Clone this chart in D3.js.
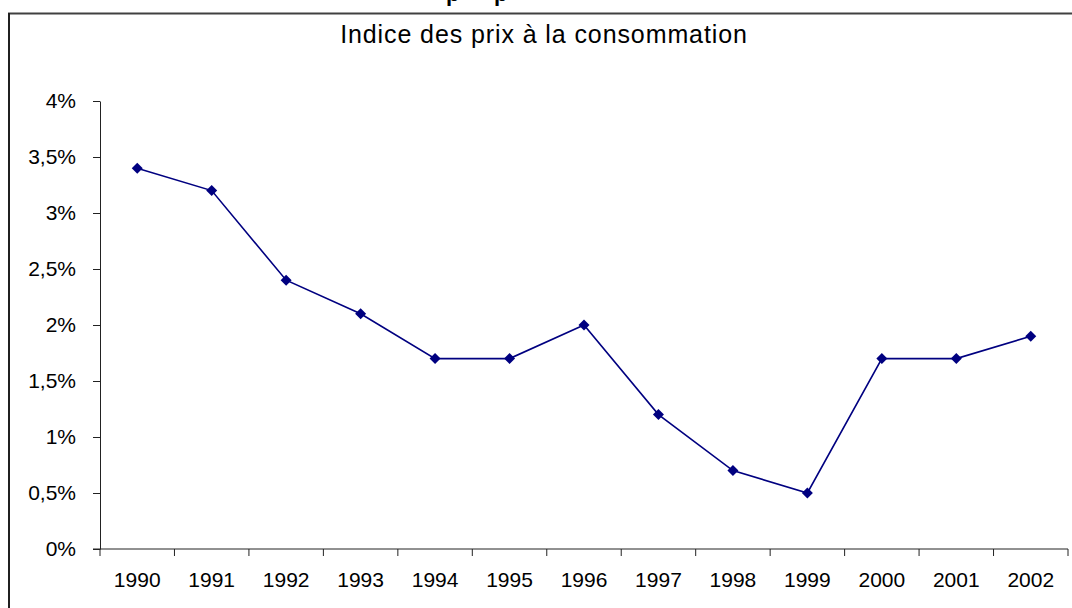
<!DOCTYPE html>
<html>
<head>
<meta charset="utf-8">
<script src="https://cdn.jsdelivr.net/npm/d3@7"></script>
<style>
  html, body { margin: 0; background: #fff; overflow: hidden; }
  svg { display: block; font-family: "Liberation Sans", Arial, sans-serif; }
</style>
</head>
<body>
<div id="chart"></div>
<script>
// data
var years = ["1990", "1991", "1992", "1993", "1994", "1995", "1996", "1997", "1998", "1999", "2000", "2001", "2002"];
var ipc = [3.4, 3.2, 2.4, 2.1, 1.7, 1.7, 2.0, 1.2, 0.7, 0.5, 1.7, 1.7, 1.9];
var yTicks = [0, 0.5, 1, 1.5, 2, 2.5, 3, 3.5, 4];
var title = "Indice des prix à la consommation";
// bits of an upper title cut off by the window edge
var cutGlyphs = [{ x: 446, t: "p" }, { x: 494, t: "p" }];

var W = 1072, H = 608;
var margin = { top: 101, right: 4, bottom: 59, left: 100 };
var width = W - margin.left - margin.right,
    height = H - margin.top - margin.bottom;

var svg = d3.select("#chart").append("svg")
    .attr("width", W)
    .attr("height", H);

// outer frame (only top and left edges fall inside the window)
svg.append("line")
    .attr("x1", 8).attr("x2", W)
    .attr("y1", 13.5).attr("y2", 13.5)
    .attr("stroke", "#404040")
    .attr("stroke-width", 2);
svg.append("line")
    .attr("x1", 9).attr("x2", 9)
    .attr("y1", 13).attr("y2", H)
    .attr("stroke", "#202020")
    .attr("stroke-width", 2);

svg.selectAll(".cut")
    .data(cutGlyphs)
  .enter().append("text")
    .attr("class", "cut")
    .attr("x", function(d) { return d.x; })
    .attr("y", 1)
    .attr("font-size", 22)
    .attr("font-weight", "bold")
    .attr("fill", "#000")
    .text(function(d) { return d.t; });

svg.append("text")
    .attr("x", 544)
    .attr("y", 43)
    .attr("text-anchor", "middle")
    .attr("font-size", 25)
    .attr("letter-spacing", "0.9px")
    .attr("fill", "#000")
    .text(title);

var g = svg.append("g").attr("transform", "translate(" + margin.left + "," + margin.top + ")");

var x = d3.scaleBand().domain(years).range([0, width]);
var y = d3.scaleLinear().domain([0, 4]).range([height, 0]);

// y axis
var yAxis = g.append("g")
    .call(d3.axisLeft(y)
      .tickValues(yTicks)
      .tickSize(7)
      .tickSizeOuter(0)
      .tickPadding(17)
      .tickFormat(function(d) { return String(d).replace(".", ",") + "%"; }));
yAxis.selectAll("path, line").attr("stroke", "#222");
yAxis.selectAll("text")
    .attr("font-size", 21)
    .attr("font-family", "Liberation Sans, Arial, sans-serif")
    .attr("fill", "#000");

// x axis, ticks between categories
var xAxis = g.append("g")
    .attr("transform", "translate(0," + height + ")");
xAxis.append("line")
    .attr("x1", -7).attr("x2", width)
    .attr("stroke", "#222");
xAxis.selectAll(".xt")
    .data(years.concat(["end"]))
  .enter().append("line")
    .attr("class", "xt")
    .attr("x1", function(d, i) { return i * x.step(); })
    .attr("x2", function(d, i) { return i * x.step(); })
    .attr("y1", 0).attr("y2", 7)
    .attr("stroke", "#222");
xAxis.selectAll(".xl")
    .data(years)
  .enter().append("text")
    .attr("class", "xl")
    .attr("x", function(d) { return x(d) + x.bandwidth() / 2; })
    .attr("y", 38)
    .attr("text-anchor", "middle")
    .attr("font-size", 21)
    .attr("fill", "#000")
    .text(function(d) { return d; });

var pts = years.map(function(d, i) { return { year: d, v: ipc[i] }; });

var line = d3.line()
    .x(function(d) { return x(d.year) + x.bandwidth() / 2; })
    .y(function(d) { return y(d.v); });

g.append("path")
    .datum(pts)
    .attr("fill", "none")
    .attr("stroke", "#000080")
    .attr("stroke-width", 1.6)
    .attr("d", line);

g.selectAll(".dot")
    .data(pts)
  .enter().append("path")
    .attr("class", "dot")
    .attr("transform", function(d) { return "translate(" + (x(d.year) + x.bandwidth() / 2) + "," + y(d.v) + ")"; })
    .attr("d", "M0,-5.5L5.5,0L0,5.5L-5.5,0Z")
    .attr("fill", "#000080");
</script>
</body>
</html>
